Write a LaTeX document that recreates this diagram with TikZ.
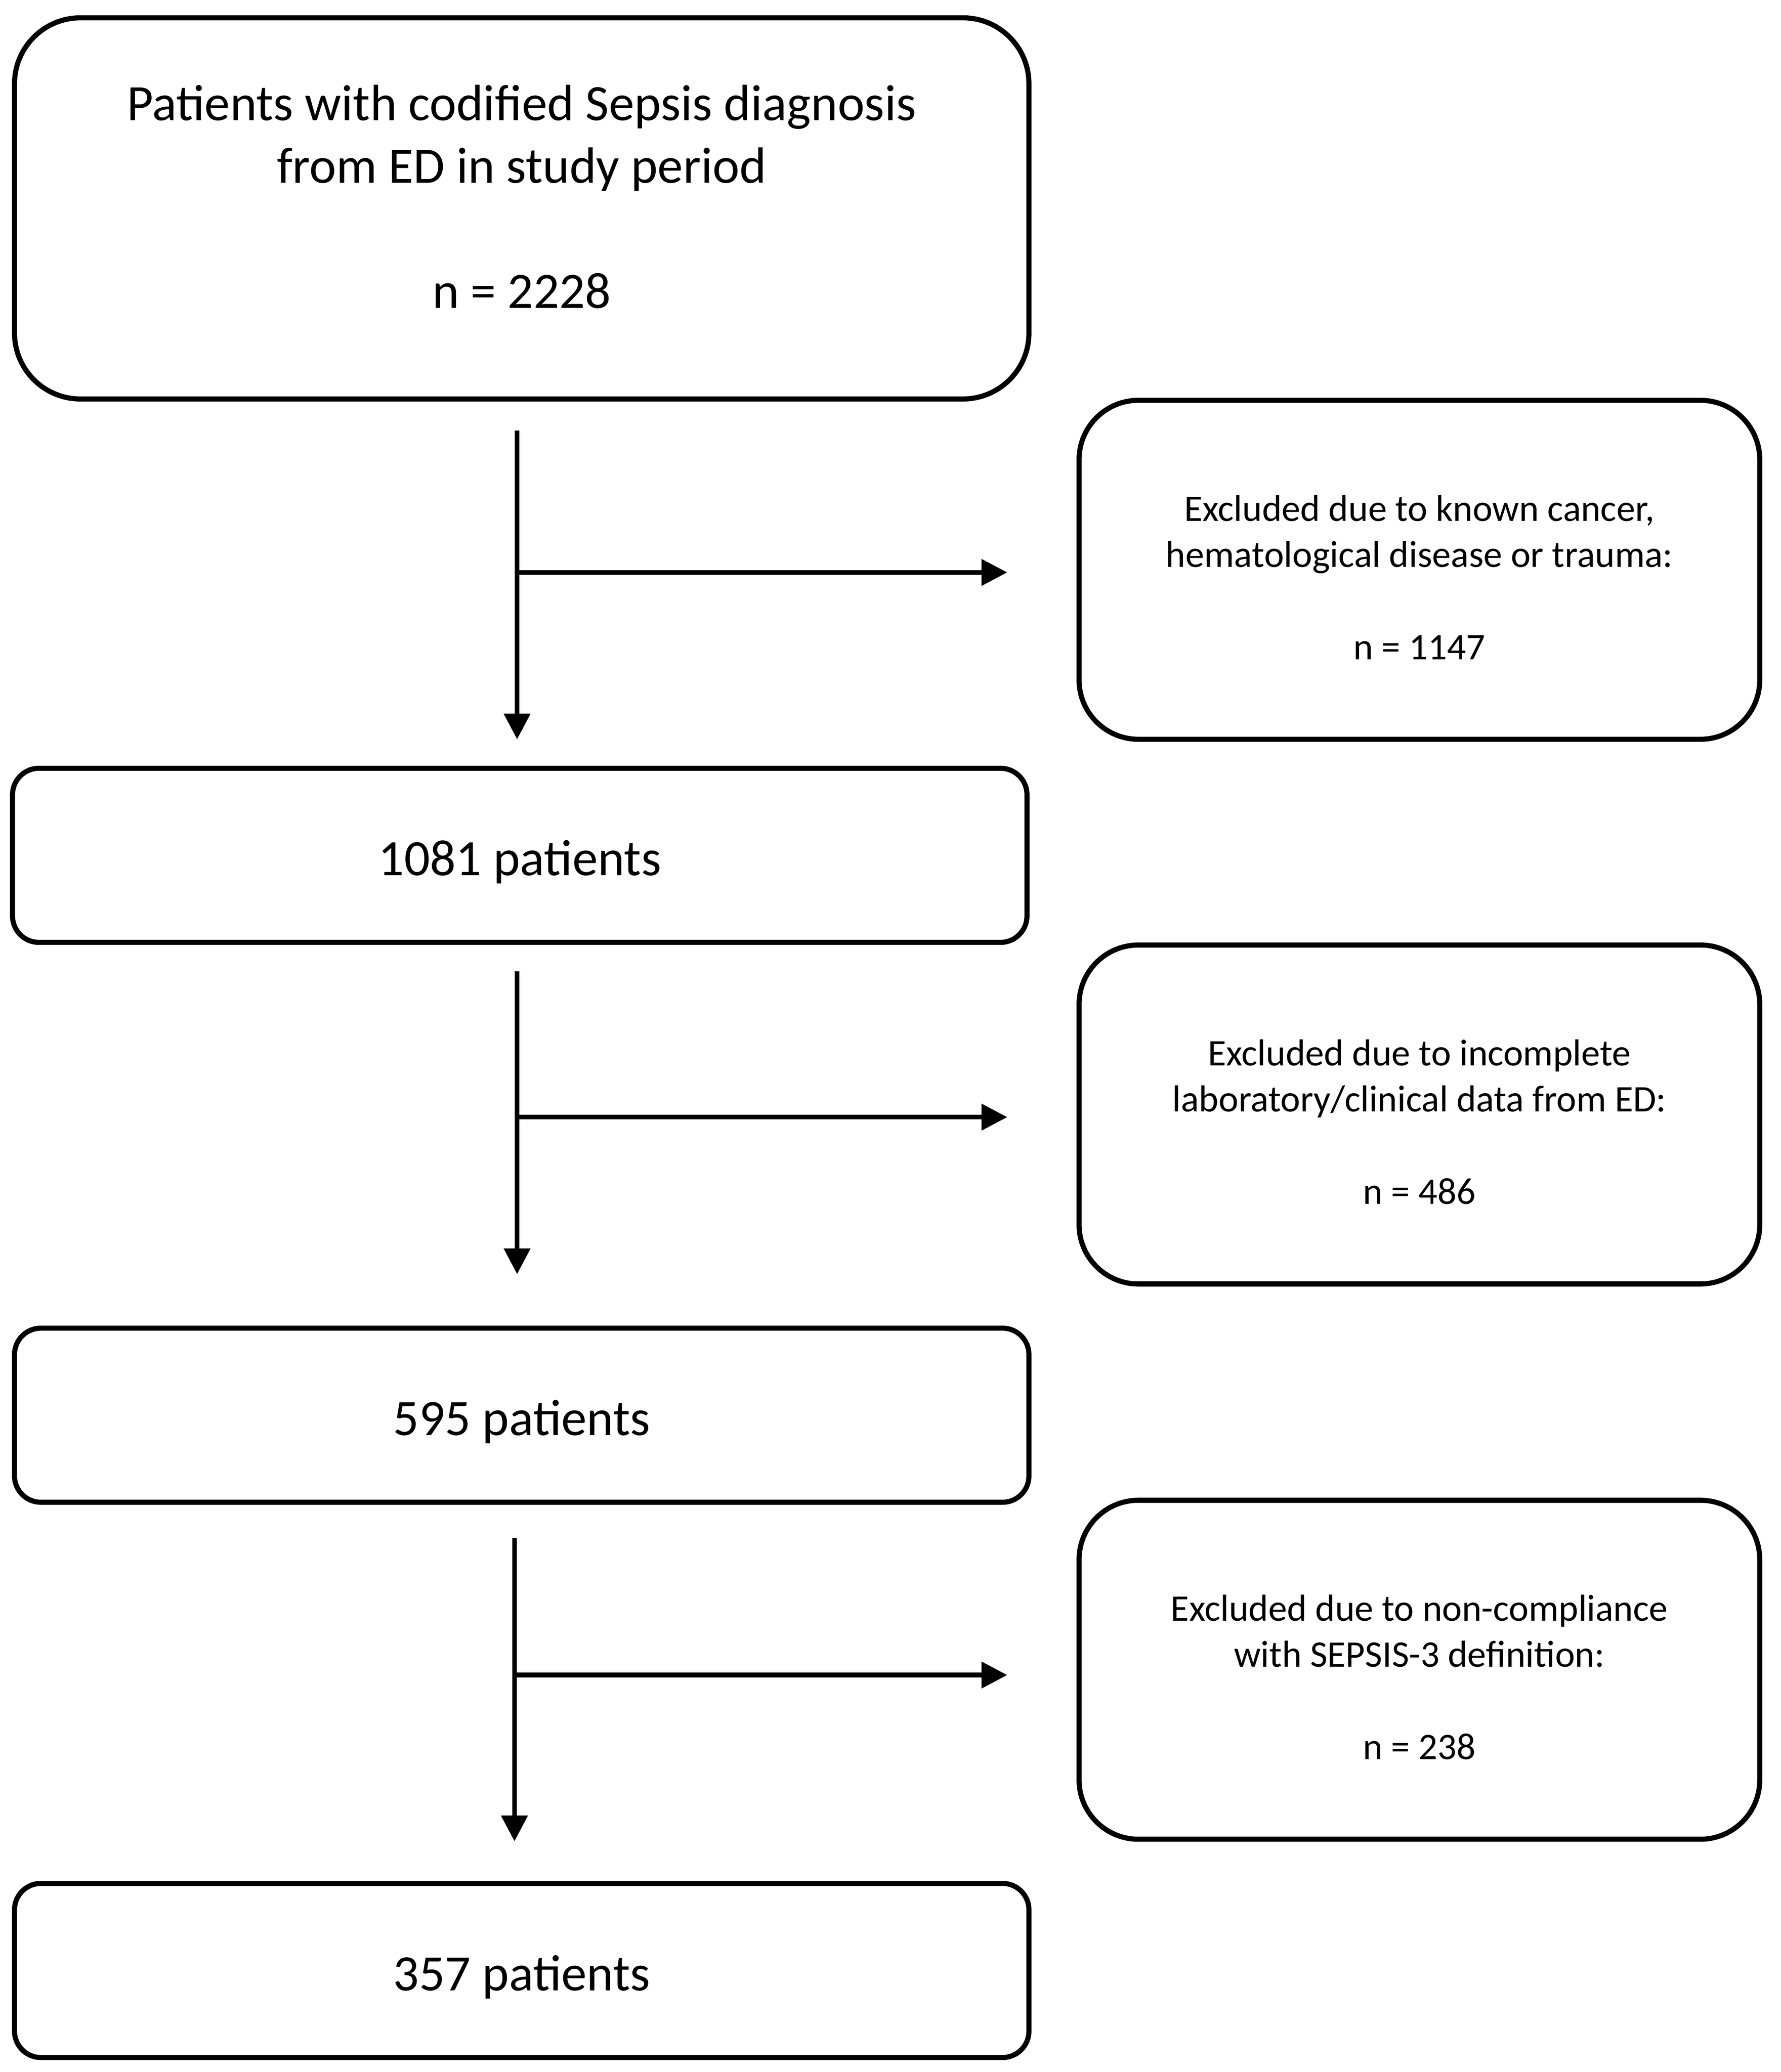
\documentclass[tikz,border=0pt]{standalone}
\usepackage{fontspec}
\setmainfont{Carlito}
\usetikzlibrary{arrows.meta}

\begin{document}
\begin{tikzpicture}[
            stagebox/.style = {draw, line width=2.2pt, align=center, minimum width=15.38cm,
                               font=\fontsize{22}{27}\selectfont},
            ptbox/.style = {stagebox, rounded corners=0.4cm, minimum height=2.64cm,
                            text height=22pt, text depth=4.6pt},
            exclbox/.style = {draw, line width=2.2pt, rounded corners=0.9cm, align=center,
                              minimum width=10.32cm, minimum height=5.14cm,
                              font=\fontsize{16.2}{19.9}\selectfont},
            flow/.style = {line width=2pt, -{Triangle[length=0.39cm, width=0.39cm]}}
        ]
            \useasboundingbox (0,0) rectangle (27,-31.42);

            \node[stagebox, rounded corners=1cm, minimum height=5.78cm] (start) at (7.91,-3.16)
                {Patients with codified Sepsis diagnosis\\from ED in study period\\[27pt]
                 n = 2228\rule[-10.2pt]{0pt}{10.2pt}};
            \node[exclbox] (excla) at (21.52,-8.64)
                {\rule{0pt}{17.6pt}Excluded due to known cancer,\\hematological disease or trauma:\\[19.9pt] n = 1147};
            \node[ptbox] (pta) at (7.88,-12.97) {1081 patients};
            \node[exclbox] (exclb) at (21.52,-16.9)
                {\rule{0pt}{17.6pt}Excluded due to incomplete\\laboratory/clinical data from ED:\\[19.9pt] n = 486};
            \node[ptbox] (ptb) at (7.91,-21.46) {595 patients};
            \node[exclbox] (exclc) at (21.52,-25.32)
                {\rule{0pt}{17.6pt}Excluded due to non-compliance\\with SEPSIS-3 definition:\\[19.9pt] n = 238};
            \node[ptbox] (ptc) at (7.91,-29.88) {357 patients};

            % free ends of the arrows
            \coordinate[yshift=-0.44cm, xshift=-0.07cm] (sa) at (start.south);
            \coordinate[yshift=0.4cm] (ea) at (sa |- pta.north);
            \coordinate[yshift=-0.4cm] (sb) at (sa |- pta.south);
            \coordinate[yshift=0.78cm] (eb) at (sb |- ptb.north);
            \coordinate[yshift=-0.5cm, xshift=-0.04cm] (sc) at (sa |- ptb.south);
            \coordinate[yshift=0.6cm] (ec) at (sc |- ptc.north);
            \coordinate[yshift=-0.04cm] (ja) at (sa |- excla.west);
            \coordinate[yshift=-0.04cm] (jb) at (sb |- exclb.west);
            \coordinate[yshift=-0.08cm] (jc) at (sc |- exclc.west);
            \coordinate[xshift=-1.05cm] (ha) at (ja -| excla.west);
            \coordinate[xshift=-1.05cm] (hb) at (jb -| exclb.west);
            \coordinate[xshift=-1.05cm] (hc) at (jc -| exclc.west);

            \draw[flow] (sa) -- (ea);
            \draw[flow] (ja) -- (ha);
            \draw[flow] (sb) -- (eb);
            \draw[flow] (jb) -- (hb);
            \draw[flow] (sc) -- (ec);
            \draw[flow] (jc) -- (hc);
        \end{tikzpicture}
\end{document}
